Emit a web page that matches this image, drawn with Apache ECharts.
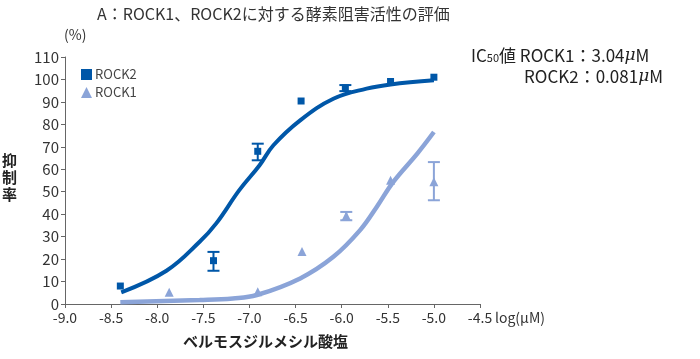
<!DOCTYPE html>
<html><head><meta charset="utf-8">
<script src="https://cdn.jsdelivr.net/npm/echarts@6/dist/echarts.min.js"></script>
<style>html,body{margin:0;padding:0;background:#fff}#c{width:700px;height:359px}</style>
</head><body><div id="c"></div>
<script>
// ---- data ----
const xTicks = [-9.0, -8.5, -8.0, -7.5, -7.0, -6.5, -6.0, -5.5, -5.0, -4.5];
const yTicks = [0, 10, 20, 30, 40, 50, 60, 70, 80, 90, 100, 110];

const rock2X = [-8.40, -7.39, -6.91, -6.44, -5.96, -5.47, -5.00];
const rock2Y = [8.0, 19.3, 68.0, 90.4, 96.3, 99.1, 101.0];
const rock2ErrX = [-7.39, -6.91, -5.96];
const rock2ErrLo = [14.8, 64.0, 94.8];
const rock2ErrHi = [23.2, 71.4, 97.5];

const rock1X = [-7.87, -6.91, -6.43, -5.95, -5.47, -5.00];
const rock1Y = [5.2, 5.5, 23.4, 39.3, 55.1, 54.4];
const rock1ErrX = [-5.95, -5.00];
const rock1ErrLo = [37.3, 46.2];
const rock1ErrHi = [41.0, 63.2];

// fitted curves
const fit2X = [-8.39, -7.90, -7.54, -7.36, -7.11, -6.89, -6.74, -6.45, -6.09, -5.73, -5.47, -5.00];
const fit2Y = [5.2, 14.8, 27.7, 35.9, 50.7, 61.8, 70.7, 81.8, 91.4, 95.9, 97.8, 99.6];
const fit1X = [-8.40, -7.54, -7.18, -6.92, -6.45, -6.09, -5.80, -5.62, -5.44, -5.18, -5.00];
const fit1Y = [0.8, 1.8, 2.5, 4.0, 11.4, 21.0, 32.9, 43.2, 54.4, 67.0, 76.6];

const C2 = '#0057a8', C1 = '#8ba4d8';
const FONT = 'Noto Sans CJK JP';

const zip = (a, b) => a.map((v, i) => [v, b[i]]);
const errData = (x, lo, hi) => x.map((v, i) => [v, lo[i], hi[i]]);

function errRender(color) {
  return function (params, api) {
    const x = api.value(0);
    const lo = api.coord([x, api.value(1)]);
    const hi = api.coord([x, api.value(2)]);
    const w = 6;
    const style = { stroke: color, lineWidth: 2 };
    return { type: 'group', children: [
      { type: 'line', shape: { x1: lo[0], y1: lo[1], x2: hi[0], y2: hi[1] }, style },
      { type: 'line', shape: { x1: lo[0] - w, y1: lo[1], x2: lo[0] + w, y2: lo[1] }, style },
      { type: 'line', shape: { x1: hi[0] - w, y1: hi[1], x2: hi[0] + w, y2: hi[1] }, style }
    ]};
  };
}

const chart = echarts.init(document.getElementById('c'), null, { renderer: 'canvas' });
chart.setOption({
  animation: false,
  textStyle: { fontFamily: FONT },
  title: {
    text: 'A：ROCK1、ROCK2に対する酵素阻害活性の評価',
    left: 92, top: 1,
    textStyle: { fontSize: 16, fontWeight: 'normal', color: '#333', fontFamily: FONT }
  },
  grid: { left: 65, right: 220, top: 57, bottom: 55 },
  legend: {
    orient: 'vertical', left: 76, top: 63,
    itemWidth: 11, itemHeight: 11, itemGap: 5,
    data: [{ name: 'ROCK2', icon: 'rect' }, { name: 'ROCK1', icon: 'triangle' }],
    textStyle: { fontSize: 13, color: '#444', fontFamily: FONT, padding: [0, 0, 0, -2] }
  },
  xAxis: {
    type: 'value', min: xTicks[0], max: xTicks[xTicks.length - 1], interval: 0.5,
    axisLine: { onZero: false, lineStyle: { color: '#666', width: 1 } },
    axisTick: { show: true, length: 4, lineStyle: { color: '#666' } },
    splitLine: { show: false },
    axisLabel: { fontSize: 14, color: '#333', margin: 7, fontFamily: FONT,
      formatter: v => v.toFixed(1) }
  },
  yAxis: {
    type: 'value', min: yTicks[0], max: yTicks[yTicks.length - 1], interval: 10,
    axisLine: { show: true, lineStyle: { color: '#666', width: 1 } },
    axisTick: { show: true, length: 4, lineStyle: { color: '#666' } },
    splitLine: { show: false },
    axisLabel: { fontSize: 15, color: '#333', margin: 6, fontFamily: FONT }
  },
  graphic: [
    { type: 'text', left: 64, top: 28, style: { text: '(%)', fontSize: 14, fill: '#333', fontFamily: FONT } },
    { type: 'text', left: 495, top: 311, style: { text: 'log(μM)', fontSize: 14, fill: '#333', fontFamily: FONT } },
    { type: 'text', left: 2, top: 152, style: { text: '抑\n制\n率', fontSize: 15, lineHeight: 17, fontWeight: 'bold', fill: '#222', fontFamily: FONT } },
    { type: 'text', left: 183, top: 334, style: { text: 'ベルモスジルメシル酸塩', fontSize: 15, fontWeight: 'bold', fill: '#222', fontFamily: FONT } },
    { type: 'text', left: 471, top: 47, style: {
        text: '{a|IC}{s|50}{a|値 ROCK1：3.04}{m|μ}{a|M}', fill: '#222',
        rich: { a: { fontSize: 17, fontFamily: FONT, fill: '#222' },
                m: { fontSize: 17, fontFamily: 'DejaVu Serif', fontStyle: 'italic', fill: '#222' },
                s: { fontSize: 11, fontFamily: FONT, fill: '#222', padding: [5, 0, 0, 0] } } } },
    { type: 'text', left: 524, top: 68, style: {
        text: '{a|ROCK2：0.081}{m|μ}{a|M}', fill: '#222',
        rich: { a: { fontSize: 17, fontFamily: FONT, fill: '#222' },
                m: { fontSize: 17, fontFamily: 'DejaVu Serif', fontStyle: 'italic', fill: '#222' } } } }
  ],
  series: [
    { name: 'ROCK2', type: 'scatter', symbol: 'rect', symbolSize: 7, itemStyle: { color: C2, opacity: 1 },
      data: zip(rock2X, rock2Y), z: 3 },
    { name: 'ROCK1', type: 'scatter', symbol: 'triangle', symbolSize: 9, itemStyle: { color: C1, opacity: 1 },
      data: zip(rock1X, rock1Y), z: 3 },
    { name: 'ROCK2 err', type: 'custom', renderItem: errRender(C2), data: errData(rock2ErrX, rock2ErrLo, rock2ErrHi), z: 3 },
    { name: 'ROCK1 err', type: 'custom', renderItem: errRender(C1), data: errData(rock1ErrX, rock1ErrLo, rock1ErrHi), z: 3 },
    { name: 'ROCK2 fit', type: 'line', smooth: 0.4, showSymbol: false, symbol: 'none',
      lineStyle: { color: C2, width: 4 }, data: zip(fit2X, fit2Y), z: 4 },
    { name: 'ROCK1 fit', type: 'line', smooth: 0.4, showSymbol: false, symbol: 'none',
      lineStyle: { color: C1, width: 4.5 }, data: zip(fit1X, fit1Y), z: 4 }
  ]
});
</script>
</body></html>
